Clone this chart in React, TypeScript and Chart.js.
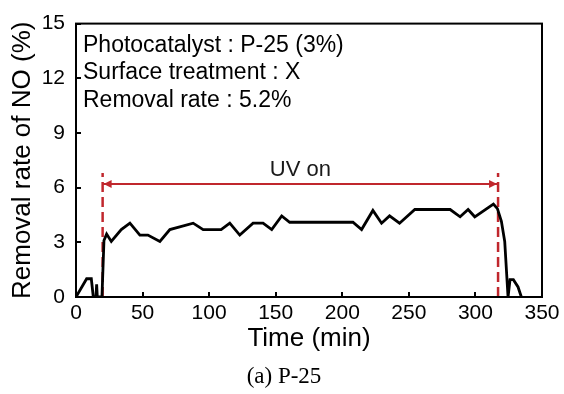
import React, { useEffect, useRef } from "react";
import { Chart, registerables } from "chart.js";

Chart.register(...registerables);

// ---- Data ----
const timeMin = [
  0, 8, 11.5, 13, 15, 15.5, 16, 19.5, 21, 23, 26.5, 34, 40.5, 48, 54, 63, 70.5, 88, 95.5, 109,
  115.5, 123, 133, 140.5, 147, 154.5, 160.5, 208, 214.5, 223, 229.5, 235.5, 243, 254.5, 281,
  288.5, 294.5, 299.5, 313.5, 316.5, 319.5, 322, 324.5, 326, 328.5, 332, 334.5,
];
const removalRate = [
  0, 1.0, 1.0, 0, 0, 0.7, 0, 0, 3.1, 3.45, 3.05, 3.7, 4.05, 3.4, 3.4, 3.05, 3.7, 4.05, 3.7, 3.7,
  4.05, 3.4, 4.05, 4.05, 3.7, 4.45, 4.1, 4.1, 3.7, 4.75, 4.05, 4.45, 4.05, 4.8, 4.8,
  4.4, 4.8, 4.4, 5.1, 4.85, 4.15, 3.05, 0, 0.95, 0.95, 0.55, 0,
];
const uvStart = 20;
const uvEnd = 317;
const uvMarkerTop = 6.8;
const uvArrowLevel = 6.2;
const uvLabelLevel = 6.95;
const uvLabel = "UV on";
const xTickValues = [0, 50, 100, 150, 200, 250, 300, 350];
const yTickValues = [0, 3, 6, 9, 12, 15];
const infoLines = ["Photocatalyst : P-25 (3%)", "Surface treatment : X", "Removal rate : 5.2%"];
const xTitle = "Time (min)";
const yTitle = "Removal rate of NO (%)";
const caption = "(a) P-25";

const SANS = "'Liberation Sans', Arial, sans-serif";
const SERIF = "'Liberation Serif', 'Times New Roman', serif";
const RED = "#c0272d";

const decorPlugin = {
  id: "decor",
  afterDatasetsDraw(chart: any) {
    const { ctx, chartArea, scales } = chart;
    const xs = scales.x;
    const ys = scales.y;
    ctx.save();
    // frame
    ctx.strokeStyle = "#000";
    ctx.lineWidth = 2;
    ctx.strokeRect(chartArea.left, chartArea.top, chartArea.right - chartArea.left, chartArea.bottom - chartArea.top);
    // inward ticks
    ctx.beginPath();
    xTickValues.forEach((v) => {
      const px = Math.round(xs.getPixelForValue(v));
      ctx.moveTo(px, chartArea.bottom);
      ctx.lineTo(px, chartArea.bottom - 5);
    });
    yTickValues.forEach((v) => {
      const py = Math.round(ys.getPixelForValue(v));
      ctx.moveTo(chartArea.left, py);
      ctx.lineTo(chartArea.left + 5, py);
    });
    ctx.stroke();
    // arrow heads
    const ay = ys.getPixelForValue(uvArrowLevel);
    const ax1 = xs.getPixelForValue(uvStart);
    const ax2 = xs.getPixelForValue(uvEnd);
    ctx.fillStyle = RED;
    ctx.beginPath();
    ctx.moveTo(ax1 + 1, ay);
    ctx.lineTo(ax1 + 9, ay - 4);
    ctx.lineTo(ax1 + 9, ay + 4);
    ctx.closePath();
    ctx.moveTo(ax2 - 1, ay);
    ctx.lineTo(ax2 - 9, ay - 4);
    ctx.lineTo(ax2 - 9, ay + 4);
    ctx.closePath();
    ctx.fill();
    // UV label
    ctx.fillStyle = "#1a1a1a";
    ctx.font = `22px ${SANS}`;
    ctx.textAlign = "center";
    ctx.textBaseline = "middle";
    ctx.fillText(uvLabel, xs.getPixelForValue((uvStart + uvEnd) / 2), ys.getPixelForValue(uvLabelLevel));
    // info text
    ctx.fillStyle = "#000";
    ctx.font = `23px ${SANS}`;
    ctx.textAlign = "left";
    infoLines.forEach((t, i) => {
      ctx.fillText(t, chartArea.left + 7, chartArea.top + 22 + i * 27.5);
    });
    // caption
    ctx.font = `23px ${SERIF}`;
    ctx.textAlign = "center";
    ctx.fillText(caption, 284, 377);
    ctx.restore();
  },
};

export default function App() {
  const ref = useRef<HTMLCanvasElement>(null);
  useEffect(() => {
    if (!ref.current) return;
    const chart = new Chart(ref.current, {
      type: "line",
      data: {
        datasets: [
          {
            data: timeMin.map((t, i) => ({ x: t, y: removalRate[i] })),
            borderColor: "#000",
            borderWidth: 2.8,
            pointRadius: 0,
            tension: 0,
            order: 0,
          },
          {
            data: [{ x: uvStart, y: 0 }, { x: uvStart, y: uvMarkerTop }],
            borderColor: RED,
            borderWidth: 2.5,
            borderDash: [10, 5],
            pointRadius: 0,
            order: 1,
          },
          {
            data: [{ x: uvEnd, y: 0 }, { x: uvEnd, y: uvMarkerTop }],
            borderColor: RED,
            borderWidth: 2.5,
            borderDash: [10, 5],
            pointRadius: 0,
            order: 1,
          },
          {
            data: [{ x: uvStart, y: uvArrowLevel }, { x: uvEnd, y: uvArrowLevel }],
            borderColor: RED,
            borderWidth: 2,
            pointRadius: 0,
            order: 1,
          },
        ],
      },
      options: {
        responsive: false,
        animation: false,
        devicePixelRatio: 1,
        layout: { padding: { left: 0, right: 22, top: 17, bottom: 0 } },
        plugins: { legend: { display: false }, tooltip: { enabled: false }, title: { display: false } },
        scales: {
          x: {
            type: "linear",
            min: 0,
            max: 350,
            afterFit: (s: any) => {
              s.height = 97;
            },
            afterBuildTicks: (s: any) => {
              s.ticks = xTickValues.map((v) => ({ value: v }));
            },
            ticks: { font: { size: 21, family: SANS }, color: "#000", padding: 4, maxRotation: 0 },
            grid: { display: false, drawTicks: false },
            border: { display: true, color: "#000", width: 2 },
            title: {
              display: true,
              text: xTitle,
              font: { size: 26, family: SANS },
              color: "#000",
              padding: { top: 0, bottom: 40 },
            },
          },
          y: {
            type: "linear",
            min: 0,
            max: 15,
            afterFit: (s: any) => {
              s.width = 76;
            },
            afterBuildTicks: (s: any) => {
              s.ticks = yTickValues.map((v) => ({ value: v }));
            },
            ticks: { font: { size: 21, family: SANS }, color: "#000", padding: 11 },
            grid: { display: false, drawTicks: false },
            border: { display: true, color: "#000", width: 2 },
            title: {
              display: true,
              text: yTitle,
              font: { size: 26, family: SANS },
              color: "#000",
              padding: { top: 7, bottom: 0 },
            },
          },
        },
      },
      plugins: [decorPlugin],
    } as any);
    return () => chart.destroy();
  }, []);
  return (
    <div style={{ position: "fixed", left: 0, top: 0, width: 564, height: 394, background: "#fff" }}>
      <canvas ref={ref} width={564} height={394} style={{ display: "block" }} />
    </div>
  );
}
